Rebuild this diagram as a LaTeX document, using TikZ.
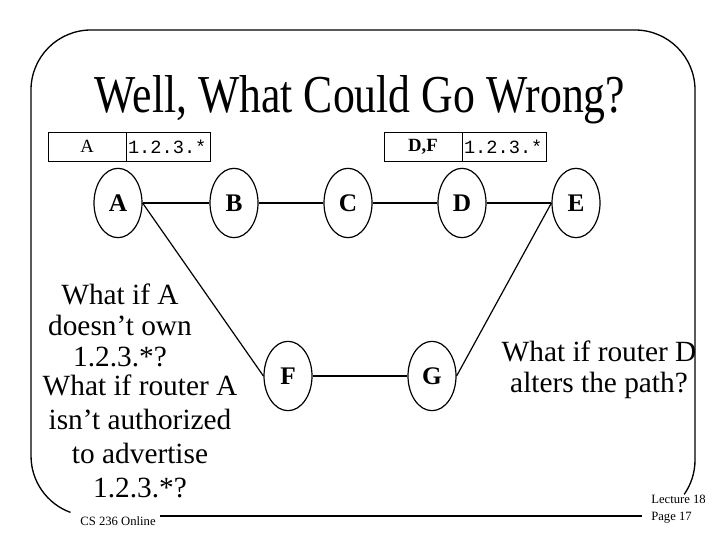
\documentclass[tikz,border=0pt]{standalone}
\usepackage{fontspec}
\setmainfont{Liberation Serif}
\setmonofont{Liberation Mono}
\usetikzlibrary{shapes.geometric}
\begin{document}
\begin{tikzpicture}[x=0.75pt,y=0.75pt,
  router/.style={draw, ellipse, line width=0.9pt, minimum width=36pt, minimum height=52pt, inner sep=0pt, font=\fontsize{19}{22}\selectfont\bfseries},
  link/.style={line width=0.9pt},
  cell/.style={draw, line width=0.7pt, minimum width=58.5pt, minimum height=21.75pt, inner sep=0pt, font=\fontsize{14}{16}\selectfont},
  pcell/.style={draw, line width=0.7pt, minimum width=63pt, minimum height=21.75pt, inner sep=0pt, text width=60pt, align=left, font=\fontsize{14}{16}\selectfont\ttfamily},
  body/.style={align=center, font=\fontsize{22}{23.25}\selectfont, inner sep=0pt},
  foot/.style={font=\fontsize{9.5}{12.5}\selectfont, inner sep=0pt},
  frame/.style={line width=1pt}]
\useasboundingbox (0,0) rectangle (720,540);
% frame
\draw[frame] (70.5,27.6) arc[start angle=250,end angle=180,radius=60] -- (31,450)
  arc[start angle=180,end angle=90,radius=60] -- (635,510)
  arc[start angle=90,end angle=0,radius=60] -- (695,80)
  arc[start angle=0,end angle=-35,radius=60];
\draw[frame] (160,24) -- (642,24);
% title
\node[font=\fontsize{40}{44}\selectfont, xscale=0.82, anchor=base, inner sep=0pt] (title) at (360,427) {Well, What Could Go Wrong?};
% tables
\node[cell] (t1a) at (87,393.5) {\raisebox{-2pt}{A}};
\node[pcell] (t1b) at (168,393.5) {1.2.3.*};
\node[cell, font=\fontsize{14}{16}\selectfont\bfseries] (t2a) at (423,393.5) {\raisebox{-2pt}{D,F}};
\node[pcell] (t2b) at (504,393.5) {1.2.3.*};
% routers
\node[router] (A) at (118,337) {A};
\node[router] (B) at (234,337) {B};
\node[router] (C) at (348,337) {C};
\node[router] (D) at (462,337) {D};
\node[router] (E) at (576,337) {E};
\node[router] (F) at (288,164) {F};
\node[router] (G) at (432,164) {G};
\draw[link] (A) -- (B);
\draw[link] (B) -- (C);
\draw[link] (C) -- (D);
\draw[link] (D) -- (E);
\draw[link] (F) -- (G);
\draw[link] (A.east) -- (F.west);
\draw[link] (G.east) -- (E.west);
% texts
\node[body] (q1) at (120,215) {What if A\\doesn’t own\\1.2.3.*?};
\node[body, font=\fontsize{22}{25.5}\selectfont] (q2) at (140,104) {What if router A\\isn’t authorized\\to advertise\\1.2.3.*?};
\node[body] (q3) at (599,170) {What if router D\\alters the path?};
% footer
\node[foot] (cs) at (118,19) {CS 236 Online};
\node[foot, anchor=west, align=left] (lec) at (651,31) {Lecture 18\\Page 17};
\end{tikzpicture}
\end{document}
